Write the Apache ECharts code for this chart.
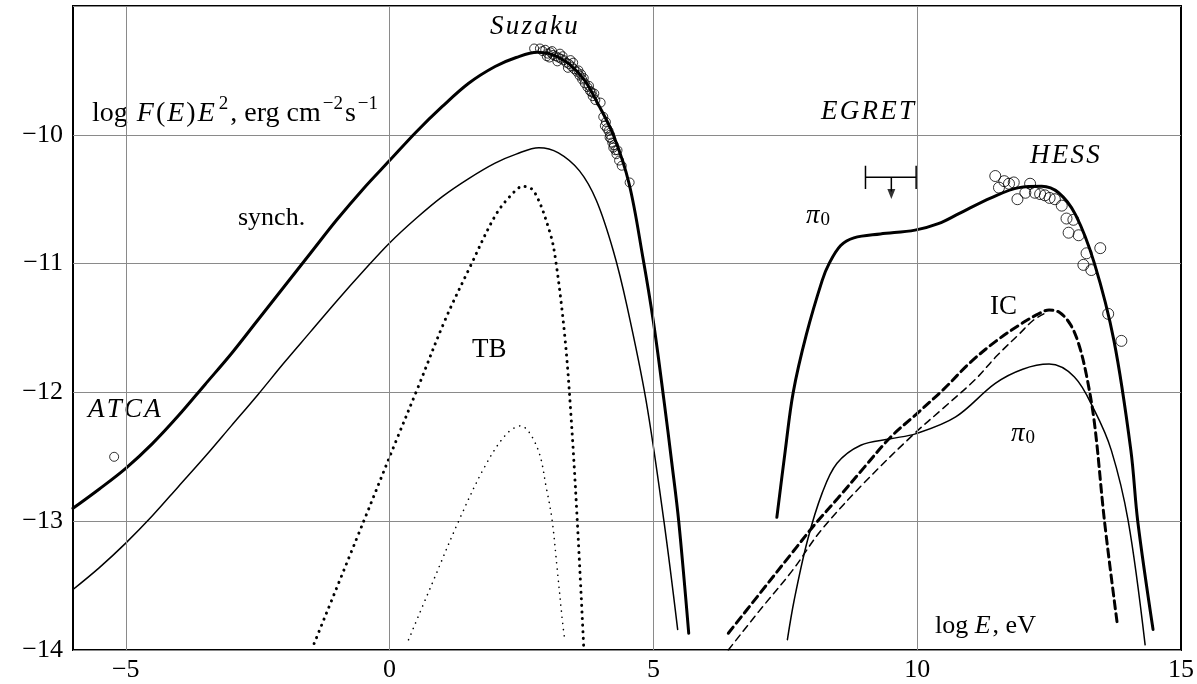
<!DOCTYPE html>
<html>
<head>
<meta charset="utf-8">
<script src="https://cdn.jsdelivr.net/npm/echarts@6/dist/echarts.min.js"></script>
<style>
  html, body { margin: 0; padding: 0; background: #fff; }
  #chart { width: 1197px; height: 684px; }
</style>
</head>
<body>
<div id="chart"></div>
<script>
// axis ticks
var xTicks = [-5, 0, 5, 10, 15];
var yTicks = [-14, -13, -12, -11, -10];

// synchrotron, total (thick) and second model (thin)
var synchThick = [[-6,-12.90],[-5.5,-12.75],[-5,-12.59],[-4.5,-12.40],[-4,-12.18],[-3.5,-11.94],[-3,-11.70],[-2.5,-11.44],[-2,-11.18],[-1.5,-10.92],[-1,-10.66],[-0.5,-10.42],[0,-10.20],[0.5,-9.98],[1,-9.78],[1.5,-9.60],[2,-9.47],[2.4,-9.40],[2.8,-9.36],[3.1,-9.38],[3.4,-9.45],[3.7,-9.58],[3.95,-9.76],[4.24,-10.0],[4.54,-10.38],[4.8,-10.95],[5.0,-11.45],[5.2,-12.06],[5.35,-12.55],[5.48,-13.0],[5.67,-13.87]];
var synchThin = [[-6,-13.53],[-5.5,-13.36],[-5,-13.17],[-4.5,-12.96],[-4,-12.73],[-3.5,-12.50],[-3,-12.26],[-2.5,-12.02],[-2,-11.77],[-1.5,-11.53],[-1,-11.29],[-0.5,-11.06],[0,-10.84],[0.5,-10.65],[1,-10.48],[1.5,-10.34],[2,-10.22],[2.4,-10.15],[2.83,-10.10],[3.2,-10.14],[3.6,-10.28],[3.92,-10.51],[4.24,-10.90],[4.5,-11.33],[4.86,-12.06],[5.2,-13.0],[5.46,-13.84]];

// thermal bremsstrahlung (dotted)
var tbThick = [[-1.43,-13.95],[-0.49,-13.0],[0.13,-12.37],[0.54,-11.96],[1.05,-11.44],[1.52,-11.03],[2.0,-10.63],[2.3,-10.47],[2.53,-10.40],[2.74,-10.44],[3.04,-10.76],[3.15,-10.98],[3.32,-11.56],[3.43,-12.13],[3.55,-12.94],[3.68,-13.98]];
var tbThin = [[0.36,-13.92],[0.79,-13.50],[1.33,-12.98],[1.80,-12.58],[2.2,-12.33],[2.48,-12.26],[2.80,-12.43],[2.98,-12.76],[3.08,-12.99],[3.17,-13.34],[3.28,-13.79],[3.32,-13.92]];

// pion decay (solid) and inverse Compton (dashed)
var pionThick = [[7.34,-12.97],[7.5,-12.45],[7.65,-12.0],[7.9,-11.55],[8.2,-11.13],[8.33,-11.0],[8.55,-10.86],[8.8,-10.80],[9.3,-10.77],[9.96,-10.74],[10.4,-10.69],[10.8,-10.61],[11.4,-10.49],[11.93,-10.41],[12.36,-10.40],[12.68,-10.45],[13.0,-10.62],[13.36,-11.0],[13.73,-11.60],[14.05,-12.45],[14.18,-13.0],[14.47,-13.84]];
var pionThin = [[7.54,-13.92],[7.67,-13.61],[7.92,-13.15],[8.2,-12.78],[8.48,-12.55],[8.93,-12.41],[9.49,-12.36],[9.98,-12.32],[10.73,-12.19],[11.48,-11.93],[12.0,-11.82],[12.5,-11.78],[12.98,-11.88],[13.36,-12.14],[13.68,-12.45],[14.0,-13.0],[14.32,-13.96]];
var icThick = [[6.42,-13.87],[7.0,-13.57],[7.64,-13.24],[8.05,-13.03],[8.5,-12.82],[9.0,-12.58],[9.49,-12.35],[9.98,-12.17],[10.49,-11.98],[11.0,-11.77],[11.5,-11.60],[12.0,-11.46],[12.3,-11.39],[12.5,-11.36],[12.7,-11.38],[12.9,-11.47],[13.05,-11.61],[13.2,-11.85],[13.36,-12.24],[13.55,-13.0],[13.79,-13.79]];
var icThin = [[6.42,-14.0],[7.0,-13.70],[7.64,-13.38],[8.18,-13.07],[9.0,-12.70],[9.92,-12.33],[10.5,-12.12],[11.1,-11.90],[11.5,-11.72],[11.95,-11.54],[12.2,-11.44],[12.4,-11.39]];

// measurements
var atca = [[-5.22,-12.50]];
var suzaku = [[2.74,-9.33],[2.85,-9.33],[2.9,-9.35],[2.95,-9.34],[3.0,-9.37],[3.05,-9.36],[3.1,-9.38],[3.15,-9.39],[3.2,-9.40],[3.25,-9.41],[3.3,-9.42],[3.35,-9.44],[3.4,-9.45],[3.45,-9.47],[3.5,-9.49],[3.55,-9.51],[3.6,-9.54],[3.65,-9.57],[3.7,-9.60],[3.75,-9.63],[3.8,-9.66],[3.85,-9.70],[3.9,-9.73],[4.0,-9.75],[4.05,-9.86],[4.1,-9.90],[4.12,-9.95],[4.15,-9.97],[4.18,-10.0],[4.2,-10.03],[4.22,-10.06],[4.25,-10.08],[4.28,-10.12],[4.3,-10.15],[4.35,-10.20],[4.55,-10.37],
  [2.98,-9.39],[3.08,-9.35],[3.18,-9.43],[3.28,-9.39],[3.38,-9.48],[3.48,-9.44],[3.58,-9.50],[3.68,-9.56],[3.78,-9.62],[3.88,-9.68],[3.03,-9.40],[3.23,-9.37],[3.43,-9.42],[3.63,-9.53],[3.83,-9.67],[4.08,-9.93],[4.17,-10.02],[4.24,-10.10],[4.32,-10.12],[4.4,-10.24]];
var hess = [[11.48,-10.32],[11.55,-10.41],[11.65,-10.36],[11.74,-10.38],[11.83,-10.37],[11.9,-10.50],[12.05,-10.45],[12.14,-10.38],[12.23,-10.45],[12.33,-10.46],[12.42,-10.47],[12.51,-10.49],[12.61,-10.50],[12.74,-10.55],[12.83,-10.65],[12.96,-10.66],[12.87,-10.76],[13.06,-10.78],[13.21,-10.92],[13.47,-10.88],[13.15,-11.01],[13.30,-11.05],[13.62,-11.39],[13.87,-11.60]];

// EGRET upper limit
var egretBar = [[9.02,-10.33],[9.98,-10.33]];
var egretCapL = [[9.02,-10.24],[9.02,-10.42]];
var egretCapR = [[9.98,-10.24],[9.98,-10.42]];
var egretStem = [[9.51,-10.33],[9.51,-10.44]];
var egretHead = [[9.51,-10.46]];

var chart = echarts.init(document.getElementById('chart'));
var serif = '"Liberation Serif", "DejaVu Serif", serif';
var hs = '\u200a';

function curve(data, width, type) {
  return {
    type: 'line', data: data, showSymbol: false, smooth: 0.35,
    lineStyle: { color: '#000', width: width, type: type || 'solid', cap: 'round' },
    silent: true
  };
}
function seg(data, width) {
  return { type: 'line', data: data, showSymbol: false, silent: true,
    lineStyle: { color: '#000', width: width } };
}
function circles(data, size) {
  return { type: 'scatter', data: data, symbol: 'circle', symbolSize: size, silent: true,
    itemStyle: { color: 'rgba(0,0,0,0)', borderColor: '#000', borderWidth: 1 } };
}
function italic(t) { return t.split('').join(hs); }

var gridLines = curve([], 1);
gridLines.markLine = {
  silent: true, symbol: ['none', 'none'], label: { show: false },
  lineStyle: { color: '#8a8a8a', type: 'solid', width: 1 },
  data: xTicks.filter(function (v) { return v < 15; }).map(function (v) { return { xAxis: v }; })
};

var option = {
  backgroundColor: '#fff',
  animation: false,
  grid: { left: 73, right: 9, top: 6, bottom: 34, show: true, borderColor: '#000', borderWidth: 2 },
  xAxis: {
    type: 'value', min: -6, max: 15, interval: 1,
    axisLine: { show: false }, axisTick: { show: false }, splitLine: { show: false },
    axisLabel: {
      margin: 7, color: '#000', fontFamily: serif, fontSize: 26,
      formatter: function (v) {
        if (xTicks.indexOf(v) < 0) return '';
        return v < 0 ? '\u2212' + Math.abs(v) : String(v);
      }
    }
  },
  yAxis: {
    type: 'value', min: -14, max: -9, interval: 1,
    axisLine: { show: false }, axisTick: { show: false },
    splitLine: { show: true, lineStyle: { color: '#8a8a8a', width: 1 } },
    axisLabel: {
      margin: 10, color: '#000', fontFamily: serif, fontSize: 26,
      formatter: function (v) {
        if (yTicks.indexOf(v) < 0) return '';
        return '\u2212' + Math.abs(v);
      }
    }
  },
  series: [
    gridLines,
    curve(synchThick, 3),
    curve(synchThin, 1.5),
    curve(tbThick, 3, [0.1, 6.5]),
    curve(tbThin, 1.6, [0.1, 6]),
    curve(pionThick, 3),
    curve(pionThin, 1.5),
    curve(icThick, 3, [8, 5]),
    curve(icThin, 1.5, [7, 5]),
    circles(atca, 9),
    circles(suzaku, 9),
    circles(hess, 11),
    seg(egretBar, 1.5),
    seg(egretCapL, 1.5),
    seg(egretCapR, 1.5),
    seg(egretStem, 1.5),
    { type: 'scatter', data: egretHead, symbol: 'triangle', symbolRotate: 180, symbolSize: [8, 10],
      itemStyle: { color: '#000' }, silent: true }
  ],
  graphic: [
    { type: 'text', left: 92, top: 95, style: {
      text: '{n|log }{i|F}{n|(}{i|E}{n|)}{i|E}{s|2}{n|, erg cm}{s|\u22122}{n|s}{s|\u22121}',
      fill: '#000',
      rich: {
        n: { fontFamily: serif, fontSize: 28, color: '#000' },
        i: { fontFamily: serif, fontSize: 28, fontStyle: 'italic', color: '#000', padding: [0, 2, 0, 2] },
        s: { fontFamily: serif, fontSize: 19, color: '#000', padding: [0, 2, 18, 2] }
      } } },
    { type: 'text', left: 238, top: 205, style: { text: 'synch.', font: '26px ' + serif, fill: '#000' } },
    { type: 'text', left: 472, top: 336, style: { text: 'TB', font: '27px ' + serif, fill: '#000' } },
    { type: 'text', left: 490, top: 13, style: { text: italic('Suzaku'), font: 'italic 27px ' + serif, fill: '#000' } },
    { type: 'text', left: 821, top: 98, style: { text: italic('EGRET'), font: 'italic 27px ' + serif, fill: '#000' } },
    { type: 'text', left: 1030, top: 142, style: { text: italic('HESS'), font: 'italic 27px ' + serif, fill: '#000' } },
    { type: 'text', left: 88, top: 396, style: { text: italic('ATCA'), font: 'italic 27px ' + serif, fill: '#000' } },
    { type: 'text', left: 990, top: 293, style: { text: 'IC', font: '27px ' + serif, fill: '#000' } },
    { type: 'text', left: 935, top: 613, style: {
      text: '{n|log }{i|E}{n|, eV}',
      rich: {
        n: { fontFamily: serif, fontSize: 26, color: '#000' },
        i: { fontFamily: serif, fontSize: 26, fontStyle: 'italic', color: '#000', padding: [0, 2, 0, 0] }
      } } },
    { type: 'text', left: 806, top: 202, style: {
      text: '{g|\u03c0}{b|0}',
      rich: {
        g: { fontFamily: serif, fontSize: 27, fontStyle: 'italic', color: '#000' },
        b: { fontFamily: serif, fontSize: 19, color: '#000', padding: [10, 0, 0, 1] }
      } } },
    { type: 'text', left: 1011, top: 420, style: {
      text: '{g|\u03c0}{b|0}',
      rich: {
        g: { fontFamily: serif, fontSize: 27, fontStyle: 'italic', color: '#000' },
        b: { fontFamily: serif, fontSize: 19, color: '#000', padding: [10, 0, 0, 1] }
      } } }
  ]
};

chart.setOption(option);
window.onresize = function () { chart.resize(); };
</script>
</body>
</html>
